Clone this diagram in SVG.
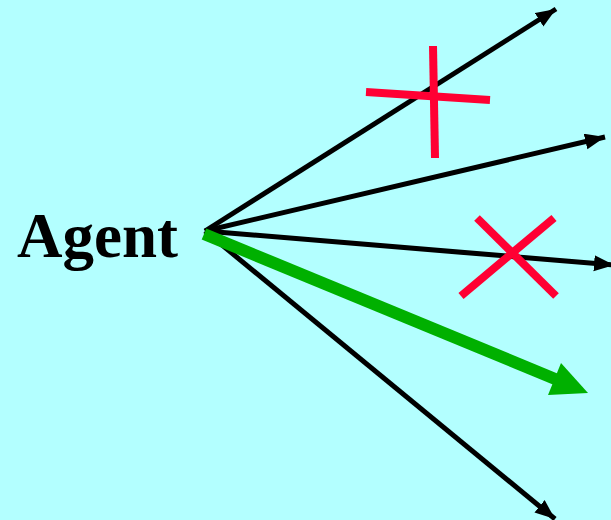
<svg xmlns="http://www.w3.org/2000/svg" width="611" height="520" viewBox="0 0 611 520">
<defs>
<marker id="ah" markerUnits="userSpaceOnUse" markerWidth="22" markerHeight="18" refX="20" refY="8" orient="auto">
<path d="M0,0 L20,8 L0,16 Z" fill="#000"/>
</marker>
<style>
.ln{stroke:#000;stroke-width:5;fill:none}
.x{stroke:#FF0033;stroke-width:8;fill:none}
</style>
</defs>
<rect width="611" height="520" fill="#B3FFFF"/>
<g id="connectors">
<line class="ln" x1="205" y1="231" x2="556" y2="9" marker-end="url(#ah)"/>
<line class="ln" x1="205" y1="231" x2="605" y2="137" marker-end="url(#ah)"/>
<line class="ln" x1="205" y1="231" x2="614" y2="265" marker-end="url(#ah)"/>
<line class="ln" x1="205" y1="231" x2="555" y2="519" marker-end="url(#ah)"/>
<line x1="204" y1="234" x2="560" y2="381" stroke="#00B000" stroke-width="12"/>
<polygon points="561,363 588,393 548,395" fill="#00B000"/>
</g>
<g id="agent">
<text x="17" y="257" font-family="Liberation Serif, serif" font-weight="bold" font-size="63" fill="#000">Agent</text>
</g>
<g id="cross1">
<line class="x" x1="433" y1="46" x2="435" y2="158"/>
<line class="x" x1="366" y1="92" x2="490" y2="100"/>
</g>
<g id="cross2">
<line class="x" x1="477" y1="218" x2="556" y2="296"/>
<line class="x" x1="554" y1="218" x2="461" y2="296"/>
</g>
</svg>
